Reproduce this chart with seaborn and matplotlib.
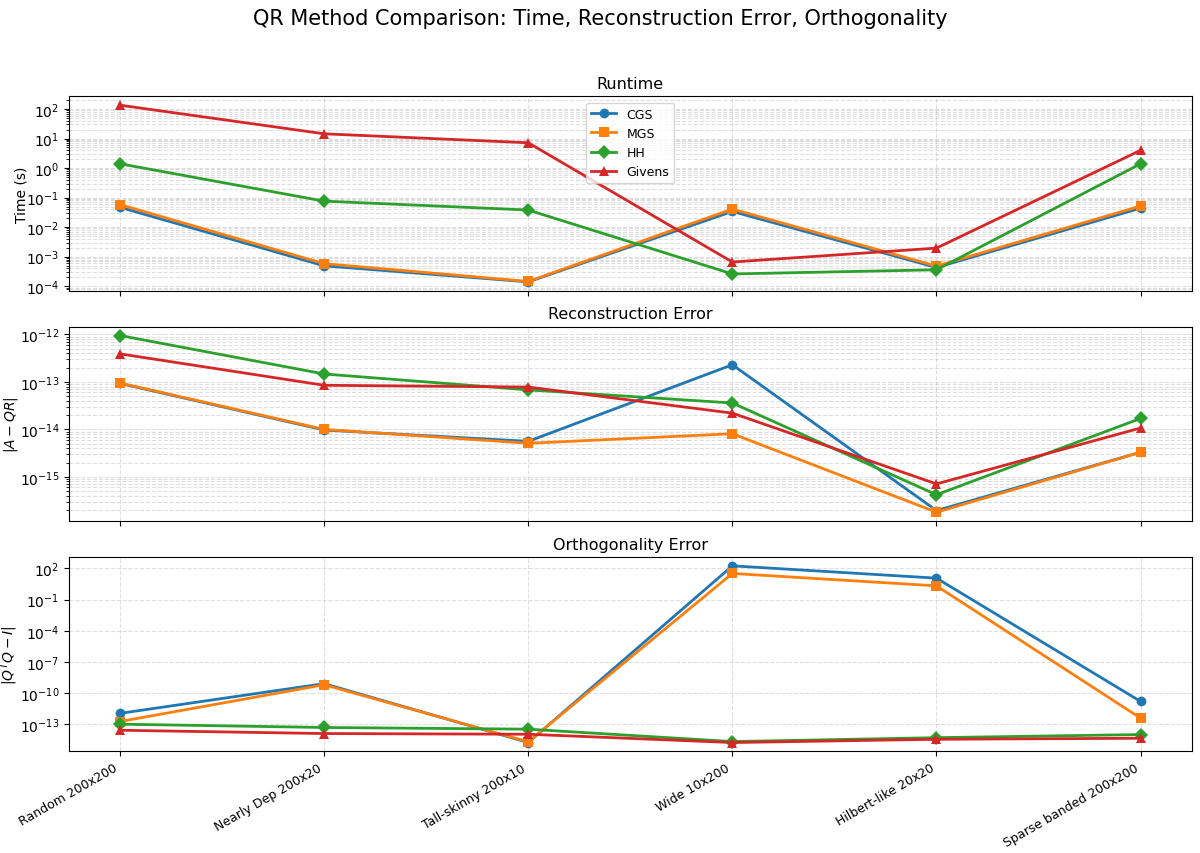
import matplotlib
matplotlib.use("Agg")
import matplotlib.pyplot as plt
from matplotlib.ticker import LogLocator, NullLocator
import numpy as np
import pandas as pd
import seaborn as sns

cases = ["Random 200x200", "Nearly Dep 200x20", "Tall-skinny 200x10",
         "Wide 10x200", "Hilbert-like 20x20", "Sparse banded 200x200"]
methods = ["CGS", "MGS", "HH", "Givens"]

# runtime in seconds
time_cgs = [0.047, 4.9e-4, 1.4e-4, 0.034, 4.3e-4, 0.044]
time_mgs = [0.058, 5.8e-4, 1.45e-4, 0.041, 4.8e-4, 0.052]
time_hh = [1.4, 0.076, 0.038, 2.6e-4, 3.6e-4, 1.4]
time_giv = [135.0, 14.5, 7.2, 6.6e-4, 1.95e-3, 4.0]

# ||A - QR||
rec_cgs = [9.3e-14, 9.7e-15, 5.6e-15, 2.3e-13, 1.95e-16, 3.3e-15]
rec_mgs = [9.5e-14, 1.0e-14, 5.1e-15, 8.1e-15, 1.8e-16, 3.3e-15]
rec_hh = [9.5e-13, 1.47e-13, 6.8e-14, 3.6e-14, 4.2e-16, 1.7e-14]
rec_giv = [3.9e-13, 8.5e-14, 7.8e-14, 2.2e-14, 7.1e-16, 1.07e-14]

# ||Q^T Q - I||
orth_cgs = [1.1e-12, 8e-10, 1.7e-15, 178.0, 11.6, 1.55e-11]
orth_mgs = [1.8e-13, 6.3e-10, 2e-15, 33.0, 2.1, 3.8e-13]
orth_hh = [1e-13, 4.8e-14, 3.3e-14, 2.1e-15, 5e-15, 1e-14]
orth_giv = [2.6e-14, 1.25e-14, 1.07e-14, 1.7e-15, 3.5e-15, 4.4e-15]

orth_ticks = [1e-13, 1e-10, 1e-7, 1e-4, 1e-1, 1e2]


def make_df(cgs, mgs, hh, giv):
    rows = []
    for name, vals in zip(methods, [cgs, mgs, hh, giv]):
        for c, v in zip(cases, vals):
            rows.append((c, name, v))
    return pd.DataFrame(rows, columns=["case", "method", "value"])


df_time = make_df(time_cgs, time_mgs, time_hh, time_giv)
df_rec = make_df(rec_cgs, rec_mgs, rec_hh, rec_giv)
df_orth = make_df(orth_cgs, orth_mgs, orth_hh, orth_giv)

fig, axes = plt.subplots(3, 1, figsize=(12, 8.54), dpi=100, sharex=True)
fig.subplots_adjust(left=0.0575, right=0.993, top=0.886, bottom=0.119, hspace=0.185)
fig.suptitle("QR Method Comparison: Time, Reconstruction Error, Orthogonality", fontsize=15, y=0.99)

panels = [
    (df_time, "Runtime", "Time (s)", -0.036),
    (df_rec, "Reconstruction Error", r"$|A - QR|$", -0.044),
    (df_orth, "Orthogonality Error", r"$|Q^TQ - I|$", -0.044),
]

for i, (d, title, ylab, lab_x) in enumerate(panels):
    ax = axes[i]
    sns.lineplot(data=d, x="case", y="value", hue="method", style="method",
                 markers=["o", "s", "D", "^"], dashes=False, markersize=7,
                 linewidth=2, markeredgewidth=0, ax=ax, legend=(i == 0),
                 palette="tab10", sort=False)
    ax.set_yscale("log")
    if i < 2:
        ax.yaxis.set_major_locator(LogLocator(base=10, numticks=30))
        ax.yaxis.set_minor_locator(LogLocator(base=10, subs=np.arange(2, 10), numticks=100))
    else:
        ax.set_yticks(orth_ticks)
        ax.yaxis.set_minor_locator(NullLocator())
    ax.set_title(title, fontsize=11.5)
    ax.set_ylabel(ylab)
    ax.yaxis.set_label_coords(lab_x, 0.5)
    ax.set_xlabel("")
    ax.grid(True, which="both", linestyle="--", alpha=0.4)

axes[0].legend(loc="upper center", bbox_to_anchor=(0.5, 1.0), fontsize=9)
plt.setp(axes[2].get_xticklabels(), rotation=30, ha="right", fontsize=9)

plt.savefig("out.png", dpi=100)
